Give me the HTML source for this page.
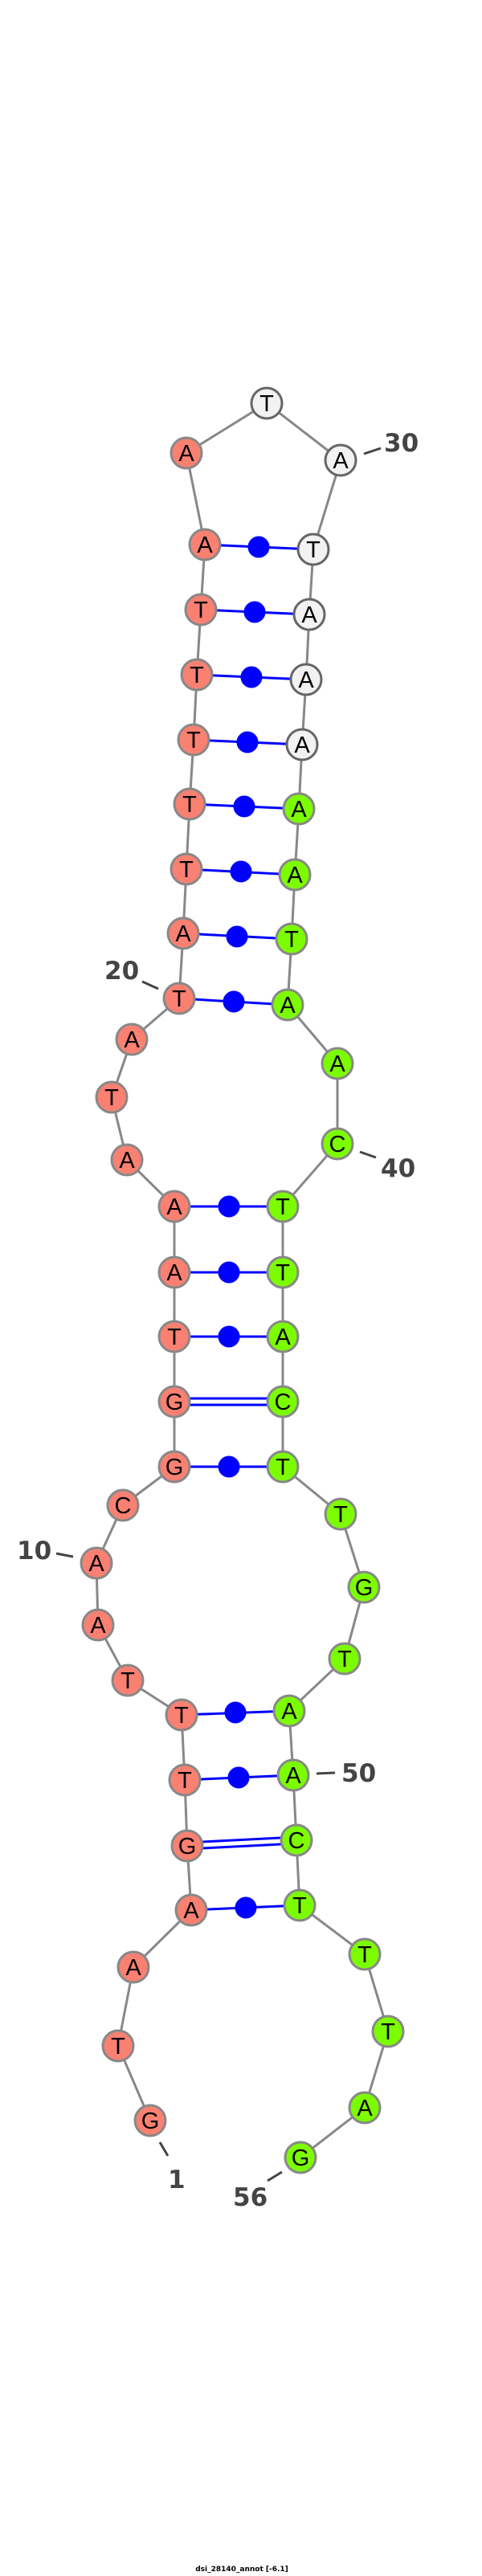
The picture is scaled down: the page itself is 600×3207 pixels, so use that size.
<!DOCTYPE html>
<html><head><meta charset="utf-8"><style>
html,body{margin:0;padding:0;background:#fff;}
svg{display:block;}
.lb{font-family:"DejaVu Sans",sans-serif;font-weight:bold;font-size:31px;fill:#444;}
</style></head><body>
<svg width="600" height="3207" viewBox="0 0 600 3207" xmlns="http://www.w3.org/2000/svg">
<g stroke="#888" stroke-width="3" fill="none">
<polyline points="187,2640 147,2547 166,2449 238,2378 233,2298 230,2216 226,2135 159,2092 122,2023 120,1946 153,1874 217,1826 217,1745 217,1664 217,1584 217,1502 158,1444 139,1366 164,1294 223,1243 228,1162 232,1082 236,1001 241,921 245,840 250,759 255,678 232,564 332,502 424,573 390,684 385,765 381,846 376,927 372,1007 367,1089 363,1169 358,1251 420,1324 420,1424 352,1502 352,1584 352,1664 352,1745 352,1826 424,1885 453,1976 429,2065 360,2130 365,2210 369,2291 373,2372 454,2433 483,2529 454,2624 374,2686"/>
</g>
<g stroke="#0000ff" stroke-width="3" fill="#0000ff">
<line x1="255" y1="678" x2="390" y2="684"/><circle cx="322" cy="681" r="12"/>
<line x1="250" y1="759" x2="385" y2="765"/><circle cx="317" cy="762" r="12"/>
<line x1="245" y1="840" x2="381" y2="846"/><circle cx="313" cy="843" r="12"/>
<line x1="241" y1="921" x2="376" y2="927"/><circle cx="308" cy="924" r="12"/>
<line x1="236" y1="1001" x2="372" y2="1007"/><circle cx="304" cy="1004" r="12"/>
<line x1="232" y1="1082" x2="367" y2="1089"/><circle cx="300" cy="1085" r="12"/>
<line x1="228" y1="1162" x2="363" y2="1169"/><circle cx="295" cy="1166" r="12"/>
<line x1="223" y1="1243" x2="358" y2="1251"/><circle cx="291" cy="1247" r="12"/>
<line x1="217" y1="1502" x2="352" y2="1502"/><circle cx="285" cy="1502" r="12"/>
<line x1="217" y1="1584" x2="352" y2="1584"/><circle cx="285" cy="1584" r="12"/>
<line x1="217" y1="1664" x2="352" y2="1664"/><circle cx="285" cy="1664" r="12"/>
<line x1="217" y1="1741" x2="352" y2="1741"/><line x1="217" y1="1749" x2="352" y2="1749"/>
<line x1="217" y1="1826" x2="352" y2="1826"/><circle cx="285" cy="1826" r="12"/>
<line x1="226" y1="2135" x2="360" y2="2130"/><circle cx="293" cy="2132" r="12"/>
<line x1="230" y1="2216" x2="365" y2="2210"/><circle cx="297" cy="2213" r="12"/>
<line x1="233" y1="2294" x2="369" y2="2287"/><line x1="233" y1="2302" x2="369" y2="2295"/>
<line x1="238" y1="2378" x2="373" y2="2372"/><circle cx="306" cy="2375" r="12"/>
</g>
<g stroke="#888" stroke-width="3">
<g fill="#fa8072">
<circle cx="187" cy="2640" r="19"/><circle cx="147" cy="2547" r="19"/><circle cx="166" cy="2449" r="19"/><circle cx="238" cy="2378" r="19"/><circle cx="233" cy="2298" r="19"/><circle cx="230" cy="2216" r="19"/><circle cx="226" cy="2135" r="19"/><circle cx="159" cy="2092" r="19"/><circle cx="122" cy="2023" r="19"/><circle cx="120" cy="1946" r="19"/><circle cx="153" cy="1874" r="19"/><circle cx="217" cy="1826" r="19"/><circle cx="217" cy="1745" r="19"/><circle cx="217" cy="1664" r="19"/><circle cx="217" cy="1584" r="19"/><circle cx="217" cy="1502" r="19"/><circle cx="158" cy="1444" r="19"/><circle cx="139" cy="1366" r="19"/><circle cx="164" cy="1294" r="19"/><circle cx="223" cy="1243" r="19"/><circle cx="228" cy="1162" r="19"/><circle cx="232" cy="1082" r="19"/><circle cx="236" cy="1001" r="19"/><circle cx="241" cy="921" r="19"/><circle cx="245" cy="840" r="19"/><circle cx="250" cy="759" r="19"/><circle cx="255" cy="678" r="19"/><circle cx="232" cy="564" r="19"/>
</g>
<g fill="#f2f2f2" stroke="#666">
<circle cx="332" cy="502" r="19"/><circle cx="424" cy="573" r="19"/><circle cx="390" cy="684" r="19"/><circle cx="385" cy="765" r="19"/><circle cx="381" cy="846" r="19"/><circle cx="376" cy="927" r="19"/>
</g>
<g fill="#7cfc00">
<circle cx="372" cy="1007" r="19"/><circle cx="367" cy="1089" r="19"/><circle cx="363" cy="1169" r="19"/><circle cx="358" cy="1251" r="19"/><circle cx="420" cy="1324" r="19"/><circle cx="420" cy="1424" r="19"/><circle cx="352" cy="1502" r="19"/><circle cx="352" cy="1584" r="19"/><circle cx="352" cy="1664" r="19"/><circle cx="352" cy="1745" r="19"/><circle cx="352" cy="1826" r="19"/><circle cx="424" cy="1885" r="19"/><circle cx="453" cy="1976" r="19"/><circle cx="429" cy="2065" r="19"/><circle cx="360" cy="2130" r="19"/><circle cx="365" cy="2210" r="19"/><circle cx="369" cy="2291" r="19"/><circle cx="373" cy="2372" r="19"/><circle cx="454" cy="2433" r="19"/><circle cx="483" cy="2529" r="19"/><circle cx="454" cy="2624" r="19"/><circle cx="374" cy="2686" r="19"/>
</g>
</g>
<g fill="#000" font-family="Liberation Sans, sans-serif" font-size="29" text-anchor="middle">
<text x="187" y="2650">G</text><text x="147" y="2557">T</text><text x="166" y="2459">A</text><text x="238" y="2388">A</text><text x="233" y="2308">G</text><text x="230" y="2226">T</text><text x="226" y="2145">T</text><text x="159" y="2102">T</text><text x="122" y="2033">A</text><text x="120" y="1956">A</text><text x="153" y="1884">C</text><text x="217" y="1836">G</text><text x="217" y="1755">G</text><text x="217" y="1674">T</text><text x="217" y="1594">A</text><text x="217" y="1512">A</text><text x="158" y="1454">A</text><text x="139" y="1376">T</text><text x="164" y="1304">A</text><text x="223" y="1253">T</text><text x="228" y="1172">A</text><text x="232" y="1092">T</text><text x="236" y="1011">T</text><text x="241" y="931">T</text><text x="245" y="850">T</text><text x="250" y="769">T</text><text x="255" y="688">A</text><text x="232" y="574">A</text>
<text x="332" y="512">T</text><text x="424" y="583">A</text><text x="390" y="694">T</text><text x="385" y="775">A</text><text x="381" y="856">A</text><text x="376" y="937">A</text>
<text x="372" y="1017">A</text><text x="367" y="1099">A</text><text x="363" y="1179">T</text><text x="358" y="1261">A</text><text x="420" y="1334">A</text><text x="420" y="1434">C</text><text x="352" y="1512">T</text><text x="352" y="1594">T</text><text x="352" y="1674">A</text><text x="352" y="1755">C</text><text x="352" y="1836">T</text><text x="424" y="1895">T</text><text x="453" y="1986">G</text><text x="429" y="2075">T</text><text x="360" y="2140">A</text><text x="365" y="2220">A</text><text x="369" y="2301">C</text><text x="373" y="2382">T</text><text x="454" y="2443">T</text><text x="483" y="2539">T</text><text x="454" y="2634">A</text><text x="374" y="2696">G</text>
</g>
<g stroke="#444" stroke-width="3">
<line x1="453" y1="565" x2="474" y2="558"/>
<line x1="177" y1="1222" x2="197" y2="1231"/>
<line x1="448" y1="1434" x2="468" y2="1441"/>
<line x1="70" y1="1934" x2="91" y2="1938"/>
<line x1="394" y1="2208" x2="417" y2="2207"/>
<line x1="199" y1="2667" x2="209" y2="2684"/>
<line x1="333" y1="2715" x2="351" y2="2704"/>
</g>
<g class="lb">
<text x="478" y="562">30</text>
<text x="130" y="1219">20</text>
<text x="474" y="1465">40</text>
<text x="21" y="1941">10</text>
<text x="425" y="2218">50</text>
<text x="209" y="2724">1</text>
<text x="290" y="2746">56</text>
</g>
<text x="301" y="3201" font-family="DejaVu Sans, sans-serif" font-weight="bold" font-size="9" text-anchor="middle" fill="#000">dsi_28140_annot [-6.1]</text>
</svg>
</body></html>
